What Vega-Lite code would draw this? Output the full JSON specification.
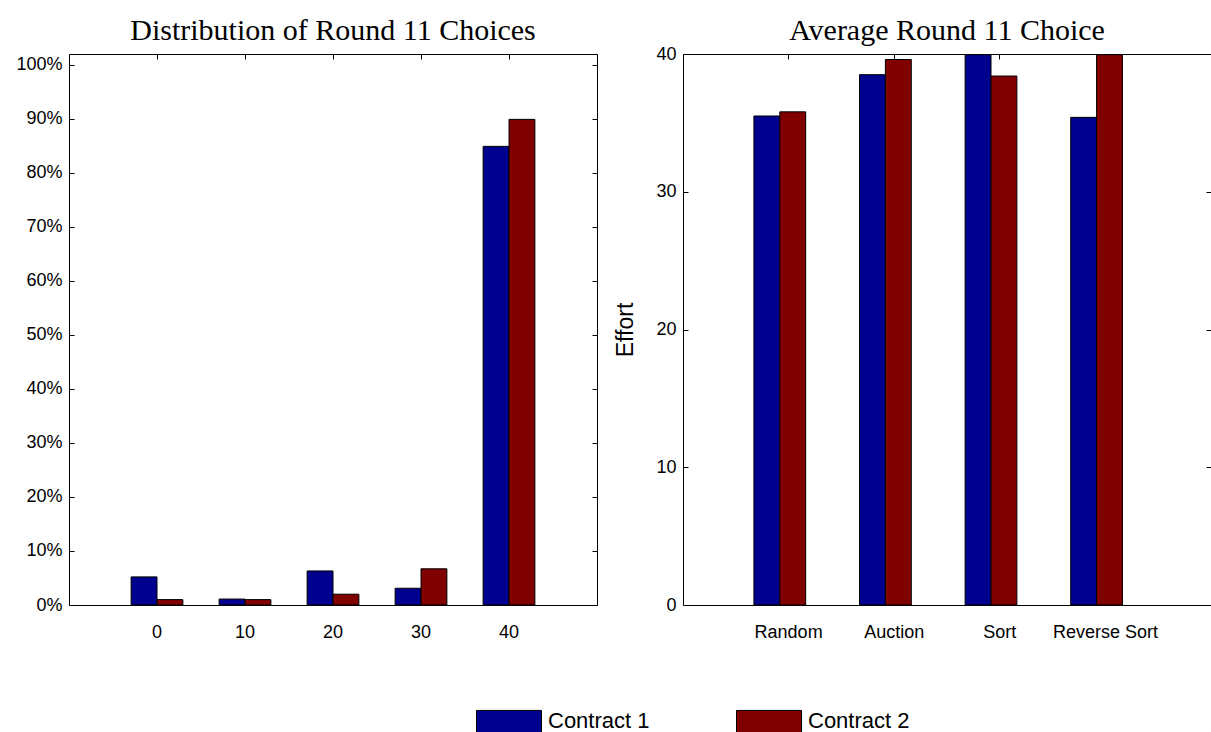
{
  "$schema": "https://vega.github.io/schema/vega-lite/v6.json",
  "background": "white",
  "padding": {"left": 15, "top": 15, "right": 5, "bottom": 5},
  "datasets": {
    "dist": [
      {"choice": "0", "contract": "Contract 1", "share": 0.052},
      {"choice": "0", "contract": "Contract 2", "share": 0.010},
      {"choice": "10", "contract": "Contract 1", "share": 0.011},
      {"choice": "10", "contract": "Contract 2", "share": 0.010},
      {"choice": "20", "contract": "Contract 1", "share": 0.063},
      {"choice": "20", "contract": "Contract 2", "share": 0.020},
      {"choice": "30", "contract": "Contract 1", "share": 0.031},
      {"choice": "30", "contract": "Contract 2", "share": 0.067},
      {"choice": "40", "contract": "Contract 1", "share": 0.849},
      {"choice": "40", "contract": "Contract 2", "share": 0.899}
    ],
    "avg": [
      {"treatment": "Random", "contract": "Contract 1", "effort": 35.5},
      {"treatment": "Random", "contract": "Contract 2", "effort": 35.8},
      {"treatment": "Auction", "contract": "Contract 1", "effort": 38.5},
      {"treatment": "Auction", "contract": "Contract 2", "effort": 39.6},
      {"treatment": "Sort", "contract": "Contract 1", "effort": 39.95},
      {"treatment": "Sort", "contract": "Contract 2", "effort": 38.4},
      {"treatment": "Reverse Sort", "contract": "Contract 1", "effort": 35.4},
      {"treatment": "Reverse Sort", "contract": "Contract 2", "effort": 39.95}
    ]
  },
  "hconcat": [
    {
      "width": 528,
      "height": 551,
      "title": {"text": "Distribution of Round 11 Choices", "frame": "group", "offset": 8},
      "data": {"name": "dist"},
      "layer": [
        {
          "mark": {"type": "bar", "stroke": "black", "strokeWidth": 1},
          "encoding": {
            "x": {"field": "choice", "type": "ordinal", "sort": ["0", "10", "20", "30", "40"],
                  "scale": {"paddingInner": 0, "paddingOuter": 0.5},
                  "axis": {"orient": "bottom", "title": null, "labelAngle": 0, "tickSize": -5, "labelPadding": 23}},
            "xOffset": {"field": "contract", "type": "nominal", "scale": {"paddingInner": 0, "paddingOuter": 0.7}},
            "y": {"field": "share", "type": "quantitative", "stack": null,
                  "scale": {"domain": [0, 1.02], "nice": false},
                  "axis": {"orient": "left", "title": null, "format": ".0%", "values": [0, 0.1, 0.2, 0.3, 0.4, 0.5, 0.6, 0.7, 0.8, 0.9, 1.0], "tickSize": -5, "labelPadding": 12}},
            "color": {"field": "contract", "type": "nominal",
                      "scale": {"domain": ["Contract 1", "Contract 2"], "range": ["#00008f", "#800000"]},
                      "legend": {"orient": "none", "direction": "horizontal", "legendX": 407, "legendY": 634, "title": null,
                                 "symbolType": "M-1,-0.34H1V0.34H-1Z", "symbolSize": 4225, "symbolStrokeColor": "black", "symbolStrokeWidth": 1, "symbolOpacity": 1,
                                 "labelFontSize": 22, "labelFont": "Liberation Sans", "labelColor": "black", "labelOffset": 6, "columnPadding": 84, "padding": 0}}
          }
        },
        {
          "mark": {"type": "bar", "opacity": 0},
          "encoding": {
            "x": {"field": "choice", "type": "ordinal", "sort": ["0", "10", "20", "30", "40"],
                  "axis": {"orient": "top", "title": null, "labels": false, "tickSize": -5}},
            "y": {"field": "share", "type": "quantitative", "stack": null,
                  "axis": {"orient": "right", "title": null, "labels": false, "values": [0, 0.1, 0.2, 0.3, 0.4, 0.5, 0.6, 0.7, 0.8, 0.9, 1.0], "tickSize": -5}}
          }
        }
      ],
      "resolve": {"axis": {"x": "independent", "y": "independent"}}
    },
    {
      "width": 528,
      "height": 551,
      "title": {"text": "Average Round 11 Choice", "frame": "group", "offset": -1},
      "data": {"name": "avg"},
      "layer": [
        {
          "mark": {"type": "bar", "stroke": "black", "strokeWidth": 1},
          "encoding": {
            "x": {"field": "treatment", "type": "ordinal", "sort": ["Random", "Auction", "Sort", "Reverse Sort"],
                  "scale": {"paddingInner": 0, "paddingOuter": 0.5},
                  "axis": {"orient": "bottom", "title": null, "labelAngle": 0, "tickSize": -5, "labelPadding": 23}},
            "xOffset": {"field": "contract", "type": "nominal", "scale": {"paddingInner": 0, "paddingOuter": 0.7}},
            "y": {"field": "effort", "type": "quantitative", "stack": null,
                  "scale": {"domain": [0, 40], "nice": false},
                  "axis": {"orient": "left", "title": "Effort", "titleFontSize": 23, "titlePadding": 18, "values": [0, 10, 20, 30, 40], "tickSize": -5, "labelPadding": 12}},
            "color": {"field": "contract", "type": "nominal",
                      "scale": {"domain": ["Contract 1", "Contract 2"], "range": ["#00008f", "#800000"]},
                      "legend": {"orient": "none", "direction": "horizontal", "legendX": 407, "legendY": 634, "title": null,
                                 "symbolType": "M-1,-0.34H1V0.34H-1Z", "symbolSize": 4225, "symbolStrokeColor": "black", "symbolStrokeWidth": 1, "symbolOpacity": 1,
                                 "labelFontSize": 22, "labelFont": "Liberation Sans", "labelColor": "black", "labelOffset": 6, "columnPadding": 84, "padding": 0}}
          }
        },
        {
          "mark": {"type": "bar", "opacity": 0},
          "encoding": {
            "x": {"field": "treatment", "type": "ordinal", "sort": ["Random", "Auction", "Sort", "Reverse Sort"],
                  "axis": {"orient": "top", "title": null, "labels": false, "tickSize": -5}},
            "y": {"field": "effort", "type": "quantitative", "stack": null,
                  "axis": {"orient": "right", "title": null, "labels": false, "values": [0, 10, 20, 30, 40], "tickSize": -5}}
          }
        }
      ],
      "resolve": {"axis": {"x": "independent", "y": "independent"}}
    }
  ],
  "spacing": 86,
  "bounds": "flush",
  "resolve": {"scale": {"color": "shared"}},
  "config": {
    "view": {"stroke": null},
    "font": "Liberation Sans",
    "axis": {"labelFont": "Liberation Sans", "labelFontSize": 18, "labelColor": "black", "domainColor": "black", "domainWidth": 1, "tickColor": "black", "tickWidth": 1, "grid": false, "titleFont": "Liberation Sans", "titleFontWeight": "normal", "titleColor": "black"},
    "title": {"font": "Liberation Serif", "fontSize": 30, "fontWeight": "normal", "color": "black", "anchor": "middle"}
  }
}
